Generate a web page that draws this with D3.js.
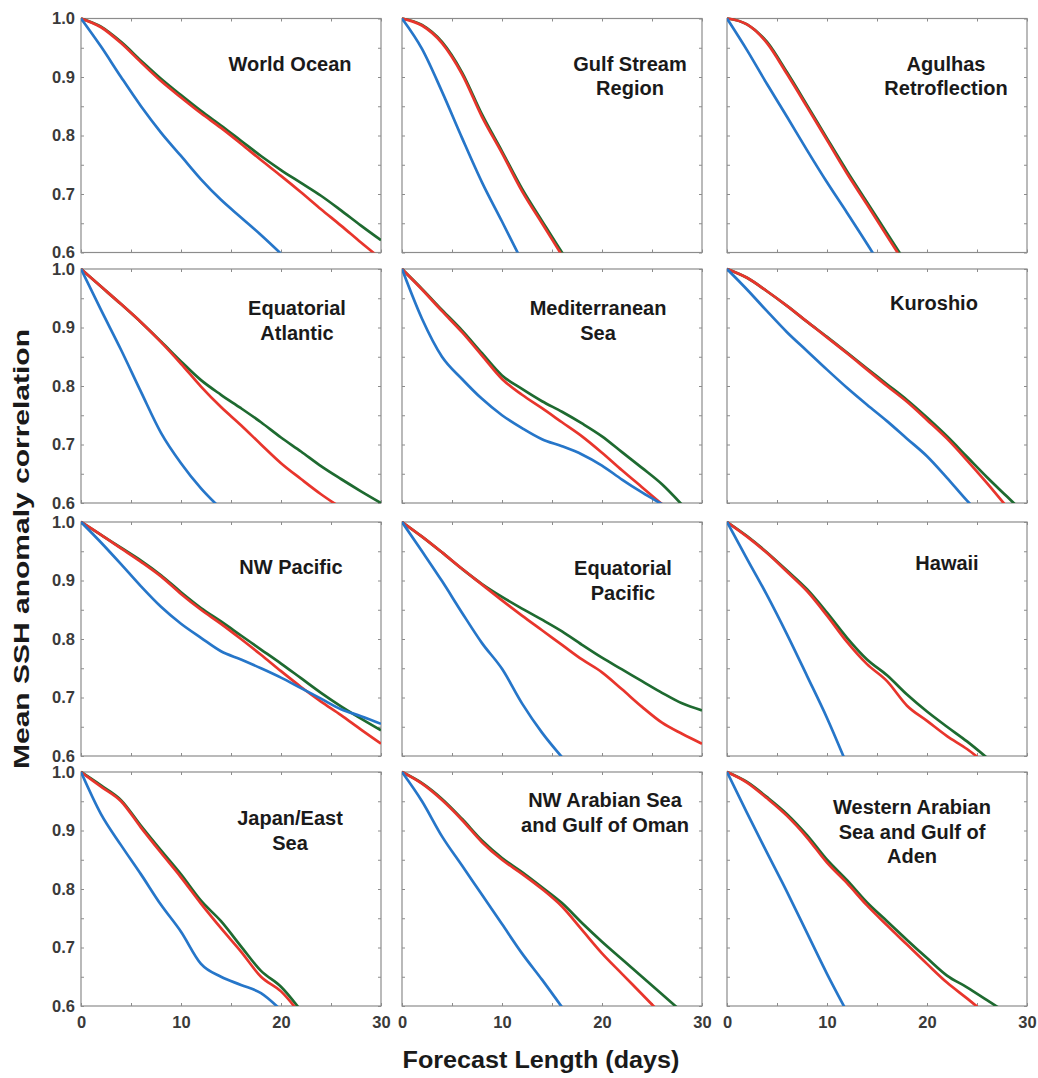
<!DOCTYPE html>
<html>
<head>
<meta charset="utf-8">
<script src="https://cdn.jsdelivr.net/npm/d3@7"></script>
<style>
  html, body { margin: 0; padding: 0; background: #ffffff; }
  svg { display: block; font-family: "Liberation Sans", Arial, sans-serif; }
</style>
</head>
<body>
<svg id="chart" width="1038" height="1078"></svg>
<script>
// ---------------- DATA ----------------
const days = [0, 2, 4, 6, 8, 10, 12, 14, 16, 18, 20, 22, 24, 26, 28, 30];
const xTickLabels = [0, 10, 20, 30];
const yTickLabels = [0.6, 0.7, 0.8, 0.9, 1.0];

const regionTitles = [
  ["World Ocean"],
  ["Gulf Stream", "Region"],
  ["Agulhas", "Retroflection"],
  ["Equatorial", "Atlantic"],
  ["Mediterranean", "Sea"],
  ["Kuroshio"],
  ["NW Pacific"],
  ["Equatorial", "Pacific"],
  ["Hawaii"],
  ["Japan/East", "Sea"],
  ["NW Arabian Sea", "and Gulf of Oman"],
  ["Western Arabian", "Sea and Gulf of", "Aden"]
];

// values at days 0,2,4,... (correlation)
const blueSeries = [
  [1.0, 0.952, 0.9, 0.85, 0.805, 0.765, 0.725, 0.69, 0.66, 0.63, 0.598],
  [1.0, 0.948, 0.875, 0.796, 0.72, 0.653, 0.585],
  [1.0, 0.946, 0.888, 0.832, 0.775, 0.72, 0.668, 0.615, 0.56],
  [1.0, 0.93, 0.862, 0.79, 0.72, 0.668, 0.625, 0.59],
  [1.0, 0.915, 0.85, 0.812, 0.778, 0.75, 0.728, 0.709, 0.697, 0.683, 0.664, 0.64, 0.618, 0.598],
  [1.0, 0.965, 0.928, 0.892, 0.86, 0.828, 0.797, 0.768, 0.74, 0.71, 0.68, 0.643, 0.604, 0.57],
  [1.0, 0.965, 0.928, 0.89, 0.855, 0.826, 0.802, 0.779, 0.765, 0.75, 0.734, 0.716, 0.698, 0.68, 0.668, 0.655],
  [1.0, 0.95, 0.899, 0.845, 0.793, 0.749, 0.69, 0.64, 0.598],
  [1.0, 0.937, 0.875, 0.808, 0.737, 0.665, 0.585],
  [1.0, 0.928, 0.875, 0.825, 0.773, 0.727, 0.672, 0.65, 0.636, 0.622, 0.593],
  [1.0, 0.95, 0.89, 0.84, 0.79, 0.74, 0.69, 0.645, 0.598],
  [1.0, 0.93, 0.862, 0.795, 0.725, 0.655, 0.59]
];

const redSeries = [
  [1.0, 0.985, 0.958, 0.925, 0.893, 0.865, 0.838, 0.813, 0.786, 0.758, 0.731, 0.703, 0.674, 0.646, 0.617, 0.589],
  [1.0, 0.988, 0.958, 0.905, 0.832, 0.77, 0.705, 0.65, 0.595],
  [1.0, 0.99, 0.958, 0.905, 0.849, 0.792, 0.735, 0.682, 0.628, 0.575],
  [1.0, 0.97, 0.94, 0.909, 0.875, 0.838, 0.799, 0.764, 0.733, 0.70, 0.668, 0.641, 0.615, 0.592],
  [1.0, 0.965, 0.928, 0.892, 0.852, 0.812, 0.785, 0.762, 0.738, 0.714, 0.686, 0.656, 0.627, 0.598],
  [1.0, 0.985, 0.962, 0.937, 0.91, 0.883, 0.856, 0.828, 0.8, 0.773, 0.742, 0.71, 0.673, 0.634, 0.593],
  [1.0, 0.978, 0.955, 0.932, 0.907, 0.877, 0.85, 0.826, 0.8, 0.773, 0.745, 0.718, 0.693, 0.67, 0.645, 0.621],
  [1.0, 0.975, 0.948, 0.92, 0.893, 0.866, 0.84, 0.815, 0.79, 0.765, 0.743, 0.714, 0.684, 0.657, 0.638, 0.621],
  [1.0, 0.975, 0.947, 0.915, 0.882, 0.84, 0.795, 0.757, 0.728, 0.686, 0.66, 0.634, 0.612, 0.585],
  [1.0, 0.975, 0.95, 0.905, 0.862, 0.82, 0.775, 0.733, 0.693, 0.65, 0.625, 0.585],
  [1.0, 0.98, 0.952, 0.918, 0.88, 0.85, 0.826, 0.8, 0.77, 0.73, 0.69, 0.655, 0.62, 0.585],
  [1.0, 0.982, 0.955, 0.925, 0.888, 0.845, 0.81, 0.772, 0.738, 0.705, 0.672, 0.64, 0.613, 0.585]
];

const greenSeries = [
  [1.0, 0.986, 0.96, 0.928, 0.897, 0.869, 0.842, 0.817, 0.791, 0.765, 0.741, 0.719, 0.697, 0.672, 0.646, 0.621],
  [1.0, 0.989, 0.96, 0.908, 0.836, 0.773, 0.709, 0.654, 0.6, 0.55],
  [1.0, 0.99, 0.96, 0.908, 0.852, 0.795, 0.739, 0.686, 0.633, 0.58],
  [1.0, 0.97, 0.94, 0.909, 0.876, 0.842, 0.81, 0.785, 0.762, 0.738, 0.712, 0.688, 0.663, 0.641, 0.62, 0.6],
  [1.0, 0.966, 0.93, 0.895, 0.856, 0.818, 0.795, 0.774, 0.756, 0.736, 0.714, 0.687, 0.66, 0.632, 0.597],
  [1.0, 0.985, 0.962, 0.937, 0.91, 0.884, 0.857, 0.83, 0.803, 0.776, 0.746, 0.714, 0.679, 0.644, 0.611, 0.578],
  [1.0, 0.978, 0.956, 0.934, 0.909, 0.88, 0.853, 0.83, 0.806, 0.782, 0.758, 0.733, 0.708, 0.685, 0.664, 0.644],
  [1.0, 0.975, 0.948, 0.92, 0.894, 0.872, 0.852, 0.833, 0.813, 0.79, 0.768, 0.748, 0.728, 0.708, 0.69, 0.678],
  [1.0, 0.976, 0.948, 0.917, 0.885, 0.845, 0.802, 0.765, 0.738, 0.705, 0.676, 0.65, 0.625, 0.597],
  [1.0, 0.977, 0.952, 0.908, 0.866, 0.825, 0.78, 0.745, 0.702, 0.66, 0.633, 0.592],
  [1.0, 0.981, 0.954, 0.92, 0.883, 0.853, 0.829, 0.803, 0.776, 0.742, 0.71, 0.68, 0.65, 0.62, 0.59],
  [1.0, 0.983, 0.957, 0.928, 0.892, 0.85, 0.815, 0.777, 0.745, 0.713, 0.682, 0.652, 0.632, 0.61, 0.588]
];

// ---------------- LAYOUT ----------------
const colX = [81, 402, 727];
const rowY = [18.5, 269, 522, 772];
const W = 300, H = 234;
// title anchor (centre x offset, first baseline offset) per panel
const titlePos = [
  [209, 52], [228, 52], [219, 52],
  [216, 46], [196, 46], [207, 41],
  [210, 52], [221, 53], [220, 48],
  [209, 53], [203, 35], [185, 42]
];
const colors = { blue: "#2676c9", red: "#e8352c", green: "#1e6a30" };

const svg = d3.select("#chart");
const x = d3.scaleLinear().domain([0, 30]).range([0, W]);
const y = d3.scaleLinear().domain([0.6, 1.0]).range([H, 0]);
const line = d3.line()
  .x((d, i) => x(days[i]))
  .y(d => y(d))
  .curve(d3.curveMonotoneX);

const defs = svg.append("defs");
defs.append("clipPath").attr("id", "clip")
  .append("rect").attr("x", 0).attr("y", -2).attr("width", W).attr("height", H + 2);

const frameColor = "#8c8c8c";
const minorX = d3.range(0, 31, 5);
const minorY = d3.range(0, 9).map(i => 0.6 + i * 0.05);

regionTitles.forEach((title, k) => {
  const r = Math.floor(k / 3), c = k % 3;
  const g = svg.append("g").attr("transform", `translate(${colX[c]},${rowY[r]})`);

  const tickStyle = sel => {
    sel.select(".domain").remove();
    sel.selectAll("line").attr("stroke", frameColor).attr("stroke-width", 1);
    sel.selectAll("text").remove();
  };
  g.append("g").attr("transform", `translate(0,${H})`)
    .call(d3.axisBottom(x).tickValues(minorX).tickSize(-3)).call(tickStyle);
  g.append("g")
    .call(d3.axisTop(x).tickValues(minorX).tickSize(-3)).call(tickStyle);
  g.append("g")
    .call(d3.axisLeft(y).tickValues(minorY).tickSize(-3)).call(tickStyle);
  g.append("g").attr("transform", `translate(${W},0)`)
    .call(d3.axisRight(y).tickValues(minorY).tickSize(-3)).call(tickStyle);

  g.append("rect").attr("x", 0).attr("y", 0).attr("width", W).attr("height", H)
    .attr("fill", "none").attr("stroke", frameColor).attr("stroke-width", 1.2);

  if (c === 0) {
    const ya = g.append("g")
      .call(d3.axisLeft(y).tickValues(yTickLabels).tickSize(0).tickPadding(6).tickFormat(d3.format(".1f")));
    ya.select(".domain").remove();
    ya.selectAll("text").attr("font-size", 16.5).attr("fill", "#3a3a3a").attr("font-weight", "bold")
      .attr("font-family", "Liberation Sans, Arial, sans-serif");
  }
  if (r === 3) {
    const xa = g.append("g").attr("transform", `translate(0,${H})`)
      .call(d3.axisBottom(x).tickValues(xTickLabels).tickSize(0).tickPadding(10).tickFormat(d3.format("d")));
    xa.select(".domain").remove();
    xa.selectAll("text").attr("font-size", 16.5).attr("fill", "#3a3a3a").attr("font-weight", "bold")
      .attr("font-family", "Liberation Sans, Arial, sans-serif");
  }

  const plot = g.append("g").attr("clip-path", "url(#clip)");
  [["green", greenSeries[k]], ["red", redSeries[k]], ["blue", blueSeries[k]]].forEach(([name, vals]) => {
    plot.append("path").datum(vals)
      .attr("d", line)
      .attr("fill", "none")
      .attr("stroke", colors[name])
      .attr("stroke-width", 2.7)
      .attr("stroke-linejoin", "round");
  });

  const t = g.append("text")
    .attr("x", titlePos[k][0]).attr("y", titlePos[k][1])
    .attr("text-anchor", "middle")
    .attr("font-size", 20).attr("font-weight", "bold").attr("fill", "#1a1a1a");
  title.forEach((ln, j) => {
    t.append("tspan").attr("x", titlePos[k][0]).attr("dy", j === 0 ? 0 : 24.5).text(ln);
  });
});

svg.append("text")
  .attr("transform", "translate(29,549) rotate(-90)")
  .attr("text-anchor", "middle")
  .attr("font-size", 22).attr("font-weight", "bold").attr("fill", "#1a1a1a")
  .attr("textLength", 440).attr("lengthAdjust", "spacingAndGlyphs")
  .text("Mean SSH anomaly correlation");

svg.append("text")
  .attr("x", 541).attr("y", 1068)
  .attr("text-anchor", "middle")
  .attr("font-size", 23).attr("font-weight", "bold").attr("fill", "#1a1a1a")
  .attr("textLength", 277).attr("lengthAdjust", "spacingAndGlyphs")
  .text("Forecast Length (days)");
</script>
</body>
</html>
